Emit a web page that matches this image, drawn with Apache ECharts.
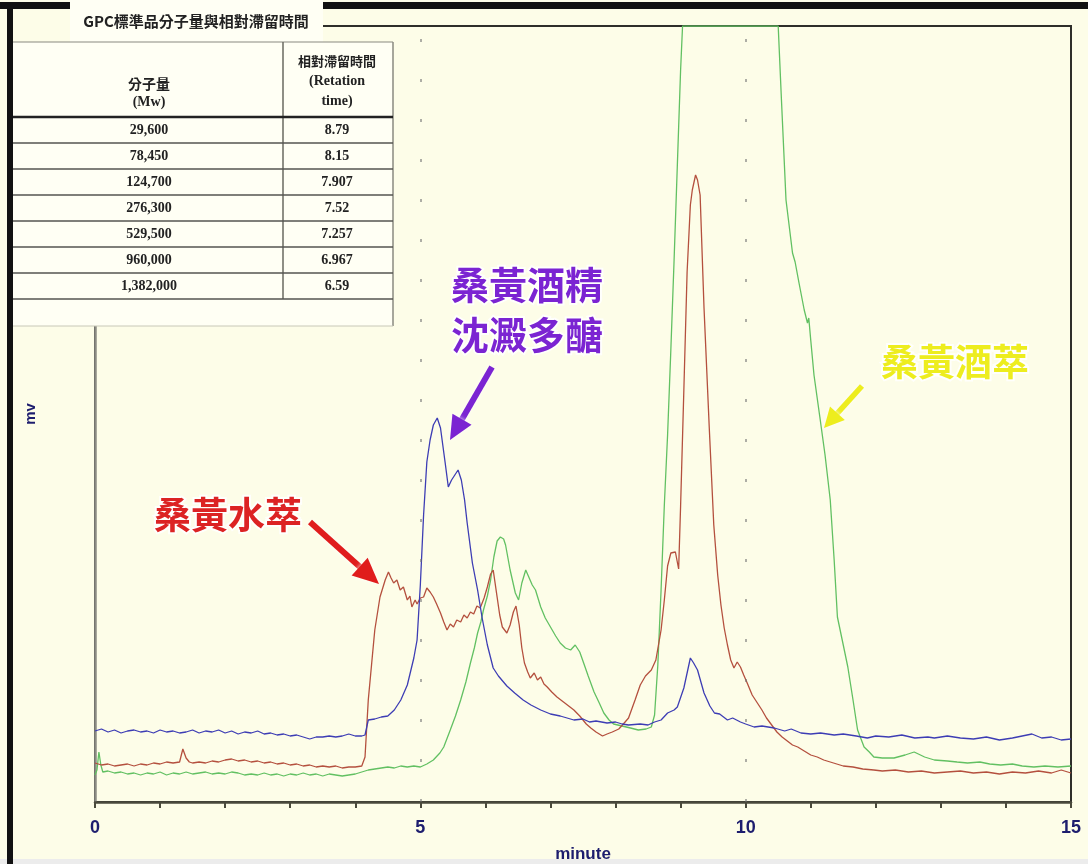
<!DOCTYPE html>
<html>
<head>
<meta charset="utf-8">
<script src="https://cdn.jsdelivr.net/npm/echarts@6/dist/echarts.min.js"></script>
<style>
  html, body { margin: 0; padding: 0; background: #fdfde8; }
  #chart { width: 1088px; height: 864px; }
</style>
</head>
<body>
<div id="chart"></div>
<script>
// GPC chromatograms: retention time (minute) vs detector response (mv, relative units)
const xTickLabels = ['0', '5', '10', '15'];
const seriesNames = ['桑黃酒萃', '桑黃水萃', '桑黃酒精沈澱多醣'];

// 桑黃酒精沈澱多醣 (blue trace)
const blueTrace = [
  [0.00,71],[0.10,73],[0.20,70],[0.30,72],[0.40,69],[0.50,71],[0.60,72],[0.70,70],[0.80,71],[0.90,69],
  [1.00,72],[1.10,70],[1.20,71],[1.30,69],[1.40,70],[1.50,72],[1.60,69],[1.70,71],[1.80,70],[1.90,72],
  [2.00,69],[2.10,71],[2.20,68],[2.30,70],[2.40,69],[2.50,71],[2.60,68],[2.70,69],[2.80,67],[2.90,68],
  [3.00,66],[3.10,67],[3.20,65],[3.30,63],[3.40,65],[3.50,65],[3.60,66],[3.70,65],[3.80,66],[3.90,68],
  [4.00,66],[4.10,66],[4.15,67],[4.20,82],[4.30,83],[4.40,85],[4.50,86],[4.60,92],[4.70,102],[4.80,117],
  [4.90,144],[4.95,162],[5.00,217],[5.05,287],[5.10,340],[5.15,362],[5.20,377],[5.26,384],[5.31,374],[5.38,340],
  [5.43,315],[5.48,322],[5.52,326],[5.58,332],[5.63,322],[5.68,302],[5.72,279],[5.80,239],[5.88,212],[5.95,184],
  [6.03,157],[6.12,134],[6.20,126],[6.33,116],[6.45,109],[6.58,102],[6.70,97],[6.85,92],[7.00,88],[7.15,86],
  [7.36,82],[7.50,83],[7.60,80],[7.70,81],[7.87,79],[8.00,80],[8.10,78],[8.20,77],[8.38,78],[8.50,77],
  [8.60,80],[8.70,82],[8.80,89],[8.90,92],[8.95,95],[9.05,114],[9.15,144],[9.20,139],[9.26,132],[9.36,109],
  [9.45,96],[9.52,89],[9.60,88],[9.72,82],[9.80,84],[9.92,80],[10.00,78],[10.13,75],[10.25,76],[10.44,74],
  [10.60,71],[10.70,73],[10.85,69],[11.00,68],[11.15,69],[11.36,67],[11.50,68],[11.70,66],[11.87,64],[12.00,66],
  [12.20,65],[12.40,67],[12.60,64],[12.80,65],[12.90,64],[13.10,66],[13.30,64],[13.50,63],[13.70,65],[13.90,62],
  [14.10,64],[14.25,66],[14.40,68],[14.55,64],[14.70,65],[14.85,62],[15.00,63]
];

// 桑黃水萃 (red trace)
const redTrace = [
  [0.00,39],[0.10,37],[0.20,38],[0.30,36],[0.40,37],[0.50,38],[0.60,36],[0.70,38],[0.80,37],[0.90,39],
  [1.00,38],[1.10,40],[1.20,39],[1.30,40],[1.35,53],[1.40,44],[1.45,40],[1.50,39],[1.60,40],[1.70,39],
  [1.80,41],[1.90,40],[2.00,42],[2.10,43],[2.20,41],[2.30,42],[2.40,40],[2.50,41],[2.60,39],[2.70,40],
  [2.80,38],[2.90,39],[3.00,37],[3.10,38],[3.20,36],[3.30,37],[3.40,35],[3.50,36],[3.60,35],[3.70,36],
  [3.80,34],[3.90,35],[4.00,35],[4.10,36],[4.15,45],[4.20,102],[4.25,137],[4.30,172],[4.38,205],[4.46,222],
  [4.51,230],[4.55,224],[4.59,219],[4.64,222],[4.69,212],[4.74,215],[4.80,202],[4.84,206],[4.87,195],[4.92,202],
  [4.95,198],[5.00,204],[5.05,205],[5.10,214],[5.15,210],[5.20,205],[5.25,198],[5.31,189],[5.36,180],[5.41,172],
  [5.46,178],[5.51,175],[5.56,182],[5.62,180],[5.67,187],[5.72,184],[5.77,190],[5.82,188],[5.87,196],[5.92,194],
  [5.98,204],[6.03,215],[6.08,228],[6.12,232],[6.18,205],[6.22,187],[6.26,175],[6.33,169],[6.38,177],[6.43,190],
  [6.47,196],[6.52,177],[6.56,154],[6.60,139],[6.65,130],[6.69,124],[6.75,129],[6.80,122],[6.85,125],[6.90,118],
  [6.95,115],[7.02,110],[7.10,105],[7.20,100],[7.30,95],[7.36,92],[7.45,86],[7.55,78],[7.62,74],[7.70,70],
  [7.80,66],[7.87,68],[7.95,70],[8.05,73],[8.12,78],[8.20,84],[8.30,102],[8.38,117],[8.46,126],[8.55,132],
  [8.62,142],[8.70,172],[8.75,202],[8.80,236],[8.85,249],[8.92,250],[8.97,233],[9.00,296],[9.05,412],[9.10,530],
  [9.15,597],[9.18,612],[9.23,627],[9.26,622],[9.30,607],[9.36,494],[9.44,375],[9.51,277],[9.57,227],[9.62,197],
  [9.67,174],[9.72,157],[9.77,142],[9.82,134],[9.87,140],[9.92,135],[9.97,127],[10.03,118],[10.10,107],[10.18,99],
  [10.25,92],[10.32,84],[10.40,77],[10.48,70],[10.56,65],[10.64,61],[10.72,57],[10.80,55],[10.90,51],[11.00,47],
  [11.10,45],[11.20,42],[11.35,39],[11.50,36],[11.65,35],[11.80,33],[11.97,32],[12.10,31],[12.30,32],[12.50,30],
  [12.70,31],[12.90,29],[13.10,30],[13.30,31],[13.50,29],[13.70,30],[13.90,28],[14.10,30],[14.30,29],[14.50,31],
  [14.70,29],[14.85,32],[15.00,29]
];

// 桑黃酒萃 (green trace); the detector saturates at the top of the range between 9 and 10.5 min
const greenTrace = [
  [0.00,27],[0.03,32],[0.06,50],[0.09,37],[0.12,30],[0.20,31],[0.30,29],[0.40,30],[0.50,28],[0.60,29],
  [0.70,27],[0.80,29],[0.90,28],[1.00,30],[1.10,27],[1.20,29],[1.30,28],[1.40,30],[1.50,28],[1.60,29],
  [1.70,30],[1.80,28],[1.90,29],[2.00,28],[2.10,30],[2.20,29],[2.30,27],[2.40,28],[2.50,27],[2.60,29],
  [2.70,27],[2.80,28],[2.90,26],[3.00,28],[3.10,27],[3.20,29],[3.30,27],[3.40,28],[3.50,26],[3.60,28],
  [3.70,27],[3.80,26],[3.90,27],[4.00,28],[4.10,30],[4.20,32],[4.30,33],[4.40,34],[4.50,35],[4.60,34],
  [4.70,36],[4.80,35],[4.90,36],[5.00,35],[5.10,38],[5.20,42],[5.30,49],[5.36,55],[5.46,72],[5.54,86],
  [5.62,102],[5.70,120],[5.77,139],[5.83,154],[5.88,169],[5.93,180],[5.97,192],[6.03,206],[6.08,222],[6.13,245],
  [6.18,261],[6.23,265],[6.28,263],[6.31,257],[6.38,232],[6.46,209],[6.51,202],[6.56,219],[6.62,232],[6.66,226],
  [6.72,217],[6.77,212],[6.85,195],[6.92,184],[7.00,175],[7.08,166],[7.15,159],[7.23,154],[7.31,152],[7.38,157],
  [7.45,150],[7.51,139],[7.58,126],[7.67,110],[7.75,99],[7.82,89],[7.90,82],[7.97,78],[8.10,76],[8.23,74],
  [8.35,72],[8.47,73],[8.55,75],[8.60,87],[8.65,137],[8.70,212],[8.75,297],[8.80,367],[8.85,452],[8.90,542],
  [8.95,637],[9.00,732],[9.03,776],[10.50,776],[10.55,702],[10.62,602],[10.72,549],[10.76,540],[10.82,519],[10.90,492],
  [10.95,479],[10.97,484],[11.00,462],[11.05,427],[11.14,385],[11.22,347],[11.30,302],[11.36,242],[11.41,185],[11.50,157],
  [11.57,135],[11.65,102],[11.72,72],[11.82,55],[11.90,50],[11.97,45],[12.10,44],[12.28,44],[12.45,47],[12.59,50],
  [12.75,45],[12.90,42],[13.10,41],[13.25,40],[13.41,39],[13.60,40],[13.75,38],[13.92,37],[14.10,38],[14.25,36],
  [14.43,35],[14.60,36],[14.80,35],[15.00,36]
];

// GPC standards: molecular weight and relative retention time
const mwValues = ['29,600', '78,450', '124,700', '276,300', '529,500', '960,000', '1,382,000'];
const rtValues = ['8.79', '8.15', '7.907', '7.52', '7.257', '6.967', '6.59'];

const chart = echarts.init(document.getElementById('chart'), null, { renderer: 'canvas' });

const navy = '#1d1d6e';
const narrow = '"Liberation Sans Narrow", "Liberation Sans", Arial, sans-serif';
const cjk = '"Noto Sans CJK TC", "Noto Sans CJK SC", sans-serif';
const serif = '"Liberation Serif", "DejaVu Serif", serif';

// ---- overlay drawing helpers (frame, table, callouts) ----
const G = [];
function rect(x, y, w, h, fill, z) {
  G.push({ type: 'rect', z: z || 100, silent: true, shape: { x, y, width: w, height: h }, style: { fill } });
}
function seg(x1, y1, x2, y2, stroke, lw, z) {
  G.push({ type: 'line', z: z || 102, silent: true, shape: { x1, y1, x2, y2 }, style: { stroke, lineWidth: lw } });
}
function label(str, x, y, font, fill, extra, z) {
  G.push({
    type: 'text', z: z || 103, silent: true, x, y,
    style: Object.assign({ text: str, font, fill, textAlign: 'center', textVerticalAlign: 'middle', align: 'center', verticalAlign: 'middle' }, extra || {})
  });
}
function arrow(x1, y1, x2, y2, color, w, headLen, headW) {
  const dx = x2 - x1, dy = y2 - y1, L = Math.hypot(dx, dy);
  const ux = dx / L, uy = dy / L, nx = -uy, ny = ux;
  const bx = x2 - ux * headLen, by = y2 - uy * headLen;
  G.push({ type: 'line', z: 104, silent: true, shape: { x1, y1, x2: bx + ux * 2, y2: by + uy * 2 },
           style: { stroke: color, lineWidth: w, shadowColor: 'rgba(255,255,255,0.9)', shadowBlur: 4 } });
  G.push({ type: 'polygon', z: 104, silent: true,
           shape: { points: [[x2, y2], [bx + nx * headW / 2, by + ny * headW / 2], [bx - nx * headW / 2, by - ny * headW / 2]] },
           style: { fill: color, shadowColor: 'rgba(255,255,255,0.9)', shadowBlur: 4 } });
}

// outer black frame
rect(0, 2, 1088, 7, '#111', 100);

// standards table
rect(70, 0, 253, 42, '#fffff4', 101);
rect(13, 42, 380, 284, '#fffff4', 101);
label('GPC標準品分子量與相對滯留時間', 196, 21, 'bold 15px ' + cjk, '#222', null, 103);
seg(13, 42, 393, 42, '#8a8a80', 1.2);
seg(283, 42, 283, 299, '#6a6a60', 1.5);
seg(393, 42, 393, 326, '#8a8a80', 1.5);
seg(13, 326, 393, 326, '#c8c8b8', 1);
seg(13, 117, 393, 117, '#222', 2.5);
const rowH = 26;
for (let i = 1; i <= mwValues.length; i++) {
  seg(13, 117 + rowH * i, 393, 117 + rowH * i, '#555550', 1.4);
}
label('分子量', 149, 84, 'bold 14px ' + cjk, '#222');
label('(Mw)', 149, 102, 'bold 14px ' + serif, '#222');
label('相對滯留時間', 337, 61, 'bold 13px ' + cjk, '#222');
label('(Retation', 337, 81, 'bold 14px ' + serif, '#222');
label('time)', 337, 101, 'bold 14px ' + serif, '#222');
mwValues.forEach((v, i) => {
  const cy = 117 + rowH * i + rowH / 2;
  label(v, 149, cy, 'bold 14px ' + serif, '#222');
  label(rtValues[i], 337, cy, 'bold 14px ' + serif, '#222');
});

// left black frame edge
rect(7, 5, 6, 859, '#111', 105);
// light strip along the bottom edge
rect(0, 859, 1088, 5, '#ececec', 99);

// callouts
const halo = { stroke: 'rgba(255,255,255,0.85)', lineWidth: 4, shadowColor: 'rgba(255,255,255,0.9)', shadowBlur: 6 };
label('桑黃酒精', 527, 285, 'bold 38px ' + cjk, '#7b24d2', halo, 106);
label('沈澱多醣', 527, 335, 'bold 38px ' + cjk, '#7b24d2', halo, 106);
label('桑黃酒萃', 955, 362, 'bold 37px ' + cjk, '#eded1e', halo, 106);
label('桑黃水萃', 228, 515, 'bold 37px ' + cjk, '#dc2323', halo, 106);
arrow(492, 367, 450, 440, '#7b24d2', 6, 24, 22);
arrow(862, 386, 824, 428, '#eded1e', 5.5, 20, 20);
arrow(310, 522, 379, 584, '#e01c1c', 6, 26, 24);

function traceSeries(name, data, color, z) {
  return {
    name, type: 'line', data, showSymbol: false, symbol: 'none', z,
    lineStyle: { color, width: 1.3 }, clip: true, animation: false
  };
}

const blue = traceSeries(seriesNames[2], blueTrace, '#3d3db4', 4);
blue.markLine = {
  silent: true, symbol: 'none', animation: false,
  label: { show: false },
  lineStyle: { type: [3, 37], color: 'rgba(110,110,110,0.55)', width: 2 },
  data: [{ xAxis: 5 }, { xAxis: 10 }]
};

chart.setOption({
  animation: false,
  backgroundColor: '#fdfde8',
  grid: {
    left: 95, right: 17, top: 26, bottom: 62,
    outerBoundsMode: 'none', containLabel: false,
    show: true, borderColor: '#2e2e2a', borderWidth: 2, backgroundColor: 'transparent'
  },
  xAxis: {
    type: 'value', min: 0, max: 15, interval: 1,
    name: 'minute', nameLocation: 'middle', nameGap: 44,
    nameTextStyle: { color: navy, fontWeight: 'bold', fontSize: 17, fontFamily: narrow },
    axisLine: { show: true, lineStyle: { color: '#4a4a3c', width: 2.5 } },
    axisTick: { show: true, length: 6, lineStyle: { color: '#4a4a3c', width: 2 } },
    axisLabel: {
      show: true, margin: 17, color: navy, fontWeight: 'bold', fontSize: 18, fontFamily: narrow,
      showMinLabel: true, showMaxLabel: true,
      formatter: v => (xTickLabels.indexOf(String(v)) >= 0 ? String(v) : '')
    },
    splitLine: { show: false }
  },
  yAxis: {
    type: 'value', min: 0, max: 776,
    name: 'mv', nameLocation: 'middle', nameGap: 57, nameRotate: 90,
    nameTextStyle: { color: navy, fontWeight: 'bold', fontSize: 15, fontFamily: narrow },
    axisLine: { show: true, lineStyle: { color: '#8c8c84', width: 2.5 } },
    axisTick: { show: false },
    axisLabel: { show: false },
    splitLine: { show: false }
  },
  series: [
    traceSeries(seriesNames[0], greenTrace, '#62c062', 2),
    traceSeries(seriesNames[1], redTrace, '#b4503e', 3),
    blue
  ],
  graphic: { elements: G }
});
</script>
</body>
</html>
